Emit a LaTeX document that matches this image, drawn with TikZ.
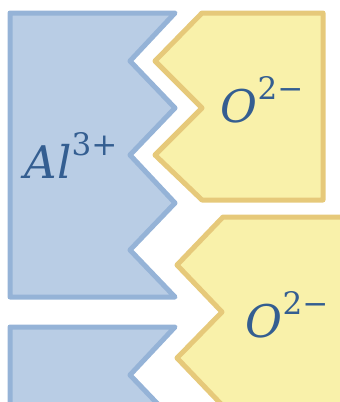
\documentclass[tikz,border=0pt]{standalone}
\usepackage{fontspec}
\setmainfont{DejaVu Serif}
\usepackage{xcolor}
\usepackage{tikz}
\definecolor{alfill}{RGB}{185,205,229}
\definecolor{aldraw}{RGB}{149,179,215}
\definecolor{oxfill}{RGB}{249,241,170}
\definecolor{oxdraw}{RGB}{230,201,122}
\definecolor{iontext}{RGB}{52,94,145}
\newcommand{\ion}[2]{\textit{#1}\raisebox{23pt}{\fontsize{31}{33}\selectfont #2}}
\tikzset{
  alpiece/.style={draw=aldraw,fill=alfill,line width=5pt,line join=round},
  oxpiece/.style={draw=oxdraw,fill=oxfill,line width=5pt,line join=round},
  ionlabel/.style={text=iontext,anchor=base,inner sep=0pt,font=\fontsize{45}{50}\selectfont},
}

\begin{document}
\begin{tikzpicture}[x=1pt,y=-1pt]
  \useasboundingbox (0,0) rectangle (340,402);
  \clip (0,0) rectangle (340,402);

  % aluminium pieces
  \draw[alpiece] (10,13) -- (175,13) -- (130,61) -- (175,108) -- (130,155)
    -- (175,203) -- (130,250) -- (175,297) -- (10,297) -- cycle;
  \draw[alpiece] (10,327) -- (175,327) -- (130,375) -- (175,422)
    -- (175,440) -- (10,440) -- cycle;

  % oxygen pieces
  \draw[oxpiece] (202,13) -- (323,13) -- (323,200) -- (202,200) -- (155,155)
    -- (202,108) -- (155,61) -- cycle;
  \draw[oxpiece] (223,217) -- (370,217) -- (370,440) -- (222,440) -- (222,405)
    -- (177,358) -- (222,312) -- (177,265) -- cycle;

  \node[ionlabel] (al) at (71,178) {\ion{Al}{3+}};
  \node[ionlabel] (oxa) at (262,122) {\ion{O}{2−}};
  \node[ionlabel] (oxb) at (287,337) {\ion{O}{2−}};
\end{tikzpicture}
\end{document}
